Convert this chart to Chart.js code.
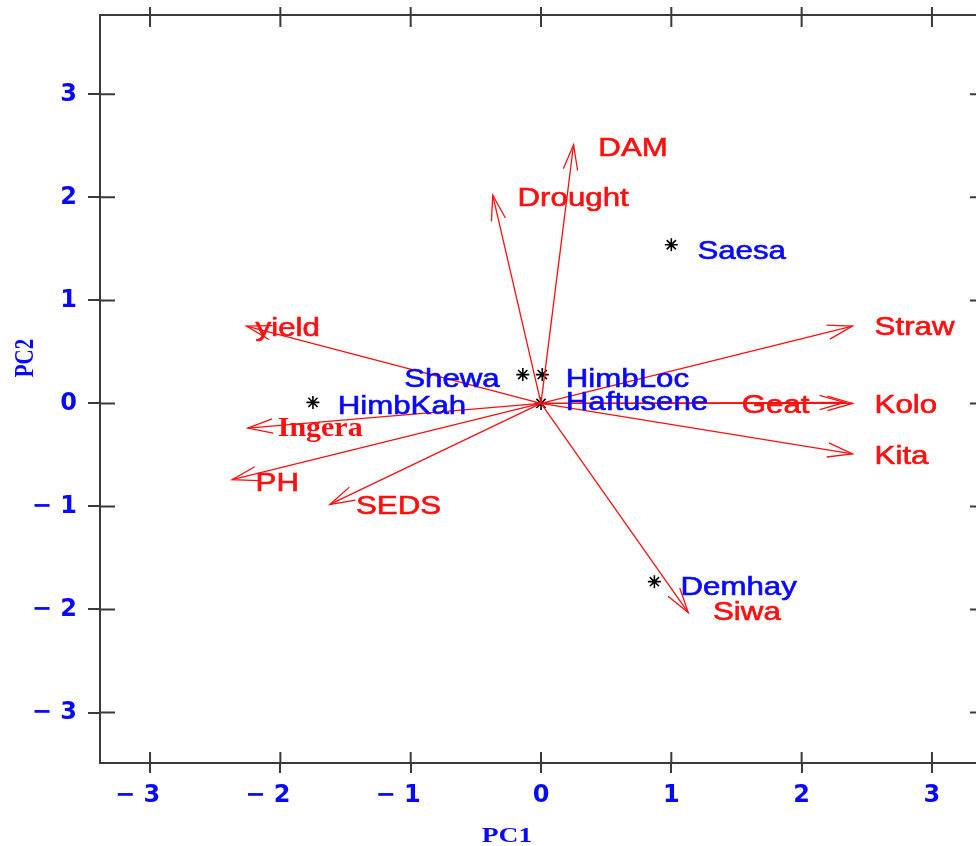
<!DOCTYPE html>
<html>
<head>
<meta charset="utf-8">
<script src="https://cdn.jsdelivr.net/npm/chart.js@4.4.1/dist/chart.umd.min.js"></script>
<style>
  html, body { margin: 0; padding: 0; background: #fff; overflow: hidden; }
  canvas { display: block; }
</style>
</head>
<body>
<canvas id="biplot" width="1000" height="846"></canvas>
<script>
// variable loadings (arrow tips)
const varNames = ['DAM', 'Drought', 'yield', 'Ingera', 'PH', 'SEDS', 'Straw', 'Geat', 'Kolo', 'Kita', 'Siwa']
const varX = [0.25, -0.37, -2.26, -2.25, -2.37, -1.62, 2.39, 2.33, 2.39, 2.39, 1.13]
const varY = [2.51, 2.02, 0.75, -0.24, -0.74, -0.98, 0.75, 0.01, 0.0, -0.49, -2.03]
// where each variable name sits (left edge, middle of capitals)
const varLabelX = [0.44, -0.18, -2.19, -2.02, -2.19, -1.42, 2.56, 1.54, 2.56, 2.56, 1.32]
const varLabelY = [2.49, 2.00, 0.74, -0.23, -0.76, -0.99, 0.75, -0.01, -0.01, -0.50, -2.01]

// observation scores
const obsNames = ['Saesa', 'Shewa', 'HimbLoc', 'Haftusene', 'HimbKah', 'Demhay']
const obsX = [1.00, -0.14, 0.01, 0.0, -1.75, 0.87]
const obsY = [1.54, 0.28, 0.28, 0.0, 0.01, -1.73]
const obsLabelX = [1.20, -1.05, 0.19, 0.19, -1.56, 1.07]
const obsLabelY = [1.49, 0.25, 0.25, 0.02, -0.015, -1.77]

const xTicks = [-3, -2, -1, 0, 1, 2, 3]
const yTicks = [-3, -2, -1, 0, 1, 2, 3]

const RED = '#ff0f0f'
const BLUE = '#0808ff'
const FRAME = '#3a3a3a'

function stretchedText(ctx, text, px, py, font, color, stretch, thicken) {
    ctx.save()
    ctx.font = font
    ctx.fillStyle = color
    ctx.strokeStyle = color
    ctx.lineWidth = 0.6
    ctx.textAlign = 'left'
    ctx.textBaseline = 'alphabetic'
    ctx.translate(px, py)
    ctx.scale(stretch, 1)
    ctx.fillText(text, 0, 9)
    if (thicken) ctx.strokeText(text, 0, 9)
    ctx.restore()
}

const biplotDecor = {
    id: 'biplotDecor',
    afterDatasetsDraw(chart) {
        const ctx = chart.ctx
        const a = chart.chartArea
        const x = chart.scales.x
        const y = chart.scales.y
        const x0 = x.getPixelForValue(0)
        const y0 = y.getPixelForValue(0)

        // arrow heads
        ctx.save()
        ctx.strokeStyle = RED
        ctx.lineWidth = 1.3
        for (let i = 0; i < varNames.length; i++) {
            const tx = x.getPixelForValue(varX[i])
            const ty = y.getPixelForValue(varY[i])
            const ang = Math.atan2(ty - y0, tx - x0)
            const len = 26
            const spread = 0.28
            ctx.beginPath()
            ctx.moveTo(tx - len * Math.cos(ang - spread), ty - len * Math.sin(ang - spread))
            ctx.lineTo(tx, ty)
            ctx.lineTo(tx - len * Math.cos(ang + spread), ty - len * Math.sin(ang + spread))
            ctx.stroke()
        }
        ctx.restore()

        // frame: top and right sides plus inner tick halves
        ctx.save()
        ctx.strokeStyle = FRAME
        ctx.lineWidth = 2
        ctx.beginPath()
        ctx.moveTo(a.left, a.top)
        ctx.lineTo(a.right, a.top)
        ctx.lineTo(a.right, a.bottom)
        ctx.stroke()
        ctx.beginPath()
        xTicks.forEach(v => {
            const px = x.getPixelForValue(v)
            ctx.moveTo(px, a.bottom)
            ctx.lineTo(px, a.bottom - 11)
            ctx.moveTo(px, a.top - 8)
            ctx.lineTo(px, a.top + 12)
        })
        yTicks.forEach(v => {
            const py = y.getPixelForValue(v)
            ctx.moveTo(a.left, py)
            ctx.lineTo(a.left + 15, py)
            ctx.moveTo(a.right - 12, py)
            ctx.lineTo(a.right + 12, py)
        })
        ctx.stroke()
        ctx.restore()

        // variable names
        for (let i = 0; i < varNames.length; i++) {
            const px = x.getPixelForValue(varLabelX[i])
            const py = y.getPixelForValue(varLabelY[i])
            if (varNames[i] === 'Ingera') {
                stretchedText(ctx, varNames[i], px, py, 'bold 28px "Liberation Serif"', RED, 1.07, false)
            } else {
                stretchedText(ctx, varNames[i], px, py, '25px "Liberation Sans"', RED, 1.25, true)
            }
        }
        // observation names
        for (let i = 0; i < obsNames.length; i++) {
            const px = x.getPixelForValue(obsLabelX[i])
            const py = y.getPixelForValue(obsLabelY[i])
            stretchedText(ctx, obsNames[i], px, py, '25px "Liberation Sans"', BLUE, 1.25, true)
        }

        // axis titles
        ctx.save()
        ctx.font = 'bold 22px "Liberation Serif"'
        ctx.fillStyle = BLUE
        ctx.textAlign = 'center'
        ctx.textBaseline = 'middle'
        ctx.translate(507, 836)
        ctx.scale(1.25, 1)
        ctx.fillText('PC1', 0, 0)
        ctx.restore()
        ctx.save()
        ctx.font = 'bold 21px "Liberation Serif"'
        ctx.fillStyle = BLUE
        ctx.textAlign = 'center'
        ctx.textBaseline = 'middle'
        ctx.translate(26, 358)
        ctx.rotate(-Math.PI / 2)
        ctx.scale(1, 1.25)
        ctx.fillText('PC2', 0, 0)
        ctx.restore()
    }
}

const arrowSets = varNames.map((name, i) => ({
    type: 'line',
    label: name,
    data: [{x: 0, y: 0}, {x: varX[i], y: varY[i]}],
    borderColor: RED,
    borderWidth: 1.3,
    pointRadius: 0,
    fill: false
}))

const pointSet = {
    type: 'scatter',
    label: 'observations',
    data: obsX.map((v, i) => ({x: v, y: obsY[i]})),
    pointStyle: 'star',
    pointRadius: 6.5,
    borderColor: '#000',
    borderWidth: 1.6,
    backgroundColor: '#000'
}

const tickFont = {family: 'DejaVu Sans', size: 24, weight: 'bold'}

new Chart(document.getElementById('biplot'), {
    data: {datasets: [...arrowSets, pointSet]},
    plugins: [biplotDecor],
    options: {
        responsive: false,
        animation: false,
        events: [],
        layout: {padding: {left: 0, right: 18, top: 15, bottom: 0}},
        plugins: {legend: {display: false}, tooltip: {enabled: false}},
        scales: {
            x: {
                type: 'linear',
                position: 'bottom',
                min: -3.384,
                max: 3.384,
                afterBuildTicks: s => { s.ticks = xTicks.map(v => ({value: v})) },
                afterFit: s => { s.height = 83; s.paddingLeft = 0; s.paddingRight = 0 },
                grid: {drawOnChartArea: false, drawTicks: true, tickLength: 10, color: FRAME, lineWidth: 2},
                border: {display: true, color: FRAME, width: 2},
                ticks: {
                    font: tickFont,
                    color: BLUE,
                    padding: 8,
                    maxRotation: 0,
                    callback: v => v < 0 ? '\u2212 ' + (-v) + '\u2007 ' : String(v)
                }
            },
            y: {
                type: 'linear',
                position: 'left',
                min: -3.49,
                max: 3.77,
                afterBuildTicks: s => { s.ticks = yTicks.map(v => ({value: v})) },
                afterFit: s => { s.width = 100; s.paddingTop = 0; s.paddingBottom = 0 },
                grid: {drawOnChartArea: false, drawTicks: true, tickLength: 12, color: FRAME, lineWidth: 2},
                border: {display: true, color: FRAME, width: 2},
                ticks: {
                    font: tickFont,
                    color: BLUE,
                    padding: 11,
                    callback: v => v < 0 ? '\u2212 ' + (-v) : String(v)
                }
            }
        }
    }
})
</script>
</body>
</html>
